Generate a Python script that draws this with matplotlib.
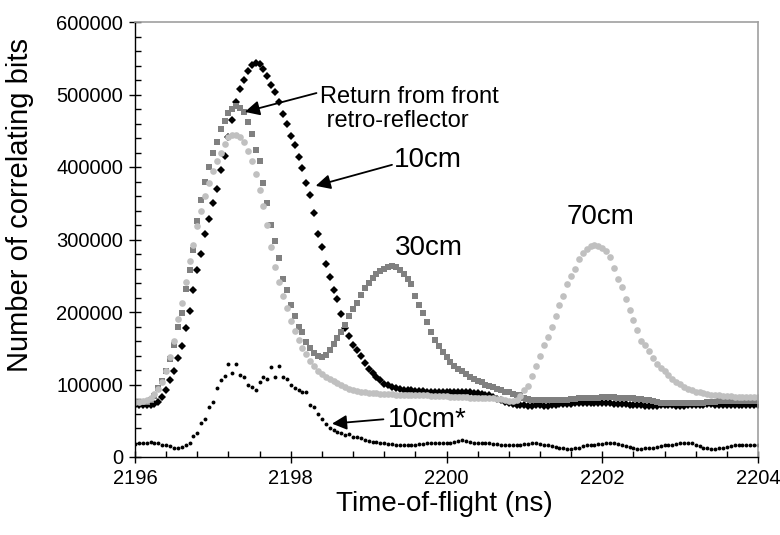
import numpy as np
import matplotlib
matplotlib.use('Agg')
import matplotlib.pyplot as plt
from matplotlib.ticker import MultipleLocator, FuncFormatter

plt.rcParams['font.family'] = ['Liberation Sans', 'DejaVu Sans']

# sampling of the time axis (ns)
t_start = 2196.0
t_step = 0.05

# counts in thousands, one row per ns
cm10 = [72, 72, 72, 72, 72, 73, 76, 83, 92, 106, 119, 136, 153, 178, 202, 230, 258, 280, 308, 328,
        350, 370, 396, 415, 442, 465, 490, 508, 520, 532, 541, 544, 542, 535, 525, 513, 503, 490, 473, 460,
        443, 430, 414, 398, 378, 362, 337, 308, 290, 266, 248, 230, 218, 197, 178, 167, 155, 148, 140, 130,
        122, 116, 110, 106, 101, 99, 97, 95, 94, 93, 92, 92, 91, 91, 91, 90, 90, 90, 90, 90,
        90, 90, 90, 90, 89, 89, 89, 88, 88, 87, 86, 85, 83, 80, 78, 76, 74, 73, 72, 72,
        72, 71, 71, 72, 72, 71, 71, 72, 72, 73, 73, 73, 73, 74, 74, 74, 74, 74, 74, 74,
        74, 74, 74, 73, 73, 73, 73, 72, 72, 72, 72, 71, 71, 71, 71, 72, 72, 72, 72, 71,
        71, 71, 72, 72, 72, 72, 72, 73, 73, 72, 72, 72, 72, 72, 72, 72, 72, 72, 72, 72,
        72]

cm30 = [76, 76, 76, 76, 78, 84, 95, 105, 118, 135, 155, 180, 198, 232, 258, 286, 325, 355, 380, 400,
        420, 435, 452, 463, 475, 480, 484, 481, 476, 462, 446, 424, 408, 378, 350, 320, 298, 275, 245, 230,
        210, 195, 180, 172, 159, 150, 144, 139, 138, 141, 148, 156, 164, 172, 182, 195, 204, 213, 224, 233,
        240, 247, 253, 257, 260, 262, 263, 262, 258, 252, 245, 238, 222, 210, 198, 186, 172, 161, 153, 145,
        138, 131, 126, 122, 118, 114, 111, 108, 105, 103, 100, 98, 96, 94, 92, 90, 89, 87, 86, 85,
        82, 80, 79, 78, 78, 78, 78, 78, 78, 78, 79, 79, 80, 80, 81, 81, 82, 82, 82, 82,
        83, 83, 83, 83, 82, 82, 82, 81, 81, 80, 80, 79, 78, 77, 76, 75, 75, 74, 74, 74,
        74, 74, 74, 74, 75, 75, 75, 76, 76, 76, 77, 77, 77, 77, 77, 77, 77, 77, 77, 77,
        77]

cm70 = [76, 76, 77, 78, 82, 87, 94, 104, 118, 138, 160, 190, 212, 242, 270, 292, 318, 340, 360, 378,
        395, 408, 420, 432, 441, 444, 444, 441, 434, 422, 408, 390, 368, 346, 320, 290, 262, 242, 222, 205,
        188, 174, 162, 151, 142, 133, 125, 119, 114, 111, 108, 105, 102, 99, 96, 94, 92, 91, 90, 89,
        88, 88, 88, 87, 87, 87, 87, 86, 86, 86, 86, 85, 85, 85, 85, 85, 84, 84, 84, 84,
        84, 83, 83, 83, 83, 83, 82, 82, 82, 82, 81, 81, 81, 80, 80, 79, 77, 77, 79, 84,
        92, 98, 112, 126, 140, 155, 166, 180, 194, 210, 222, 238, 249, 260, 273, 281, 287, 291, 292, 291,
        288, 284, 276, 261, 246, 235, 218, 203, 189, 175, 160, 154, 146, 137, 128, 123, 118, 113, 108, 104,
        101, 97, 94, 92, 90, 89, 88, 87, 86, 85, 85, 84, 84, 84, 83, 83, 83, 83, 83, 83,
        83]

cm10_star = [18, 19, 19, 20, 21, 19, 19, 17, 16, 15, 13, 12, 14, 17, 20, 29, 33, 47, 53, 69,
             76, 95, 106, 112, 128, 116, 128, 113, 111, 99, 96, 93, 104, 110, 108, 124, 111, 125, 111, 108,
             99, 95, 92, 90, 89, 72, 69, 60, 52, 45, 40, 37, 34, 33, 30, 32, 28, 27, 26, 24,
             22, 21, 21, 20, 19, 18, 18, 17, 17, 17, 17, 17, 17, 18, 18, 19, 19, 19, 19, 19,
             20, 20, 21, 22, 23, 22, 21, 20, 19, 19, 19, 19, 18, 18, 17, 17, 17, 17, 17, 17,
             18, 18, 19, 19, 18, 17, 16, 15, 14, 13, 12, 11, 11, 12, 13, 15, 16, 17, 17, 18,
             18, 19, 19, 19, 18, 17, 15, 14, 12, 11, 11, 12, 13, 13, 14, 15, 16, 17, 17, 18,
             19, 20, 20, 19, 17, 15, 13, 12, 11, 11, 12, 13, 14, 15, 16, 17, 17, 17, 17, 17,
             17]

t = t_start + t_step * np.arange(len(cm10))

fig = plt.figure(figsize=(7.8, 5.35), dpi=100)
ax = fig.add_axes([135 / 780, 1 - 457 / 535, 623 / 780, 435 / 535])

ax.plot(t, np.array(cm10_star) * 1000, 'o', color='black', ms=2.8, mew=0)
ax.plot(t, np.array(cm10) * 1000, 'D', color='black', ms=4.2, mew=0)
ax.plot(t, np.array(cm30) * 1000, 's', color='#808080', ms=4.4, mew=0)
ax.plot(t, np.array(cm70) * 1000, 'o', color='#c0c0c0', ms=4.8, mew=0)

ax.set_xlim(2196, 2204)
ax.set_ylim(0, 600000)
ax.xaxis.set_major_locator(MultipleLocator(2))
ax.xaxis.set_minor_locator(MultipleLocator(0.4))
ax.yaxis.set_major_locator(MultipleLocator(100000))
ax.yaxis.set_minor_locator(MultipleLocator(20000))
ax.yaxis.set_major_formatter(FuncFormatter(lambda v, p: '%d' % v))
ax.xaxis.set_major_formatter(FuncFormatter(lambda v, p: '%d' % v))
ax.tick_params(which='major', direction='inout', length=9, width=1, labelsize=14.5)
ax.tick_params(axis='x', which='major', pad=4)
ax.tick_params(axis='y', which='major', pad=4)
ax.tick_params(which='minor', direction='in', length=4, width=1)

for s in ['left', 'bottom']:
    ax.spines[s].set_color('black')
    ax.spines[s].set_linewidth(1)
for s in ['top', 'right']:
    ax.spines[s].set_color('#a0a0a0')
    ax.spines[s].set_linewidth(1.2)

xl = ax.set_xlabel('Time-of-flight (ns)', fontsize=20)
xl.set_va('center')
ax.xaxis.set_label_coords(0.497, (457 - 504) / 435)
yl = ax.set_ylabel('Number of correlating bits', fontsize=21)
yl.set_va('center')
ax.yaxis.set_label_coords((20 - 135) / 623, (457 - 205) / 435)

arr = dict(arrowstyle='-|>', color='black', lw=1.3, mutation_scale=22, shrinkA=0, shrinkB=0)
ax.annotate('', xy=(2197.41, 476000), xytext=(2198.33, 502000), arrowprops=arr)
ax.annotate('', xy=(2198.32, 374000), xytext=(2199.30, 403000), arrowprops=arr)
ax.annotate('', xy=(2198.53, 46000), xytext=(2199.19, 52000), arrowprops=arr)

ax.text(2198.37, 480000, 'Return from front\n retro-reflector', fontsize=17,
        ha='left', va='center', linespacing=1.1)
ax.text(2199.33, 410000, '10cm', fontsize=20, ha='left', va='center')
ax.text(2199.77, 288000, '30cm', fontsize=20, ha='center', va='center')
ax.text(2201.98, 331000, '70cm', fontsize=20, ha='center', va='center')
ax.text(2199.25, 51000, '10cm*', fontsize=20, ha='left', va='center')

fig.savefig('out.png', dpi=100)
